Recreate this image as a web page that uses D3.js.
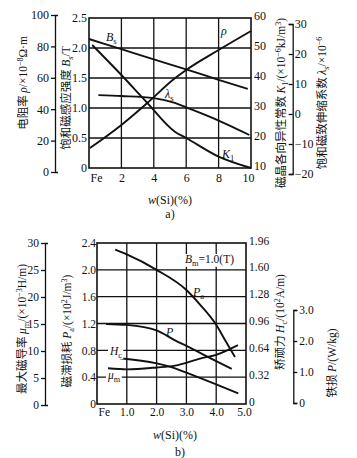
<!DOCTYPE html>
<html><head><meta charset="utf-8">
<script src="https://cdn.jsdelivr.net/npm/d3@7"></script>
<style>body{margin:0;background:#fff}svg{display:block}</style>
</head><body><svg id="c" width="357" height="458"></svg>
<script>
// ---------- Chart a) data ----------
const xTickValsA = [0, 2, 4, 6, 8, 10];
const xTicksA = ["Fe", "2", "4", "6", "8", "10"];
const bsTicks = [0, 0.5, 1.0, 1.5, 2.0, 2.5];
const rhoTicks = [0, 20, 40, 60, 80, 100];
const k1Ticks = [10, 20, 30, 40, 50, 60];
const lamTicks = [-20, -10, 0, 10, 20, 30];
const Bs = [[0, 2.15], [2, 1.98], [4, 1.81], [6, 1.645], [8, 1.47], [9.8, 1.32]];
const rho = [[0.06, 15.3], [2, 30], [3.6, 44], [5.3, 59.7], [6, 65], [8, 77.7], [10, 89.8]];
const lambdaS = [[0.58, 6.3], [2, 6.0], [4, 5.3], [5.3, 3.7], [6, 2.2], [8, -2.2], [9.9, -7.0]];
const K1 = [[0.2, 51], [2, 41], [3.5, 32.3], [5.3, 22.1], [6, 20], [8, 13.8], [10, 10]];

// ---------- Chart b) data ----------
const xTickValsB = [0, 1, 2, 3, 4, 5];
const xTicksB = ["Fe", "1.0", "2.0", "3.0", "4.0", "5.0"];
const paTicks = [0, 0.4, 0.8, 1.2, 1.6, 2.0, 2.4];
const muTicks = [0, 5, 10, 15, 20, 25, 30];
const hcTickLabels = ["0", "0.32", "0.64", "0.96", "1.28", "1.60", "1.96"];
const pTicks = [0, 1, 2, 3];
const Pa = [[0.61, 2.30], [1, 2.23], [2, 2.0], [3, 1.70], [3.5, 1.46], [4, 1.18], [4.3, 0.95], [4.63, 0.70]];
const P = [[0.3, 2.55], [1, 2.52], [2, 2.34], [2.62, 2.02], [3, 1.84], [4, 1.35], [4.52, 1.10]];
const Hc = [[0.77, 0.545], [2, 0.485], [2.62, 0.426], [3, 0.374], [4, 0.233], [4.74, 0.128]];
const mu = [[0.37, 6.8], [1, 6.6], [2, 6.95], [2.62, 7.3], [3.46, 8.6], [4, 9.3], [4.73, 11.1]];

const svg = d3.select('#c');
const SERIF = "'Liberation Serif','Times New Roman',serif";
const CJK = "'Noto Sans CJK SC','Noto Sans CJK JP',sans-serif";
const INK = '#111';

function rich(textSel, parts, size) {
  let shift = 0;
  parts.forEach(p => {
    const kind = p[1] || '';
    const t = textSel.append('tspan').text(p[0]);
    let target = 0, fs = size;
    if (kind.includes('sup')) { target = -size * 0.4; fs = size * 0.7; }
    if (kind.includes('sub')) { target = size * 0.25; fs = size * 0.72; }
    t.attr('dy', (target - shift).toFixed(2));
    shift = target;
    t.attr('font-size', fs)
     .attr('font-family', kind.includes('cjk') ? CJK : SERIF)
     .attr('font-style', kind.includes('it') ? 'italic' : 'normal');
  });
  return textSel;
}
function vtitle(cx, cy, parts, size) {
  const t = svg.append('text')
    .attr('transform', `translate(${cx},${cy}) rotate(-90)`)
    .attr('text-anchor', 'middle').attr('y', size * 0.36).attr('fill', INK);
  rich(t, parts, size);
}
function label(x, y, parts, size, bg) {
  const t = svg.append('text').attr('x', x).attr('y', y).attr('fill', INK);
  rich(t, parts, size);
  if (bg) {
    const b = t.node().getBBox();
    svg.insert('rect', () => t.node()).attr('x', b.x - 1).attr('y', b.y + 1)
      .attr('width', b.width + 2).attr('height', b.height - 2).attr('fill', '#fff');
  }
  return t;
}
function styleAxis(g, size) {
  g.attr('font-family', SERIF).attr('font-size', size);
  g.selectAll('path,line').attr('stroke', INK).attr('stroke-width', 1.3);
  g.selectAll('text').attr('fill', INK);
}

// ================= Chart a) =================
const xA = d3.scaleLinear([0, 10], [89, 251]);
const yBs = d3.scaleLinear([0, 2.5], [168, 18]);
const yRho = d3.scaleLinear([0, 100], [172, 15]);
const yK1 = d3.scaleLinear([10, 60], [168, 18]);
const yLam = d3.scaleLinear([-20, 30], [174, 24]);

const gridA = svg.append('g').attr('stroke', '#111').attr('stroke-width', 1.3);
gridA.selectAll('line.v').data(xTickValsA.slice(1, -1)).join('line')
  .attr('x1', d => xA(d)).attr('x2', d => xA(d)).attr('y1', yBs(0)).attr('y2', yBs(2.5));
gridA.selectAll('line.h').data(bsTicks.slice(1, -1)).join('line').attr('class', 'h')
  .attr('x1', xA(0)).attr('x2', xA(10)).attr('y1', d => yBs(d)).attr('y2', d => yBs(d));
svg.append('rect').attr('x', xA(0)).attr('y', yBs(2.5)).attr('width', xA(10) - xA(0))
  .attr('height', yBs(0) - yBs(2.5)).attr('fill', 'none').attr('stroke', INK).attr('stroke-width', 1.6);

let g;
g = svg.append('g').attr('transform', `translate(${xA(0)},0)`)
  .call(d3.axisLeft(yBs).tickValues(bsTicks).tickSize(0).tickPadding(2)
    .tickFormat(d => d === 0 ? '0' : d3.format('.1f')(d)));
g.select('.domain').remove(); styleAxis(g, 12);

g = svg.append('g').attr('transform', `translate(0,${yBs(0)})`)
  .call(d3.axisBottom(xA).tickValues(xTickValsA).tickSize(0).tickPadding(5)
    .tickFormat((d, i) => xTicksA[i]));
g.select('.domain').remove(); styleAxis(g, 12);
g.select('.tick text').attr('text-anchor', 'start').attr('x', 1);
g.selectAll('.tick:last-of-type text').attr('x', -3);

g = svg.append('g').attr('transform', 'translate(55,0)')
  .call(d3.axisLeft(yRho).tickValues(rhoTicks).tickSize(4).tickSizeOuter(-3).tickPadding(2));
styleAxis(g, 12);

g = svg.append('g').attr('transform', `translate(${xA(10)},0)`)
  .call(d3.axisRight(yK1).tickValues(k1Ticks).tickSize(0).tickPadding(3));
g.select('.domain').remove(); styleAxis(g, 12);
g.selectAll('.tick text').attr('dy', '0.12em');

g = svg.append('g').attr('transform', 'translate(292.7,0)')
  .call(d3.axisRight(yLam).tickValues(lamTicks).tickSize(-4).tickSizeOuter(-4).tickPadding(2)
    .tickFormat(d => d < 0 ? '\u2212' + Math.abs(d) : String(d)));
styleAxis(g, 12);

const curveStyle = s => s.attr('fill', 'none').attr('stroke', INK).attr('stroke-width', 1.9);
const lineOf = (xs, ys) => d3.line().x(d => xs(d[0])).y(d => ys(d[1])).curve(d3.curveMonotoneX);
svg.append('path').attr('d', lineOf(xA, yBs)(Bs)).call(curveStyle);
svg.append('path').attr('d', lineOf(xA, yRho)(rho)).call(curveStyle);
svg.append('path').attr('d', lineOf(xA, yLam)(lambdaS)).call(curveStyle);
svg.append('path').attr('d', lineOf(xA, yK1)(K1)).call(curveStyle);

label(106, 41, [['B', 'it'], ['s', 'sub']], 12);
label(221, 35, [['ρ', 'it']], 12);
label(165, 98, [['λ', 'it'], ['s', 'sub']], 12);
label(222, 158, [['K', 'it'], ['1', 'sub']], 12);

vtitle(23, 83, [['电阻率 ', 'cjk'], ['ρ', 'it'], ['/×10'], ['−8', 'sup'], ['Ω·m']], 11.5);
vtitle(66, 98, [['饱和磁感应强度 ', 'cjk'], ['B', 'it'], ['s', 'sub'], ['/T']], 11.5);
vtitle(281, 103, [['磁晶各向异性常数 ', 'cjk'], ['K', 'it'], ['1', 'sub'], ['/(×10'], ['−6', 'sup'], ['kJ/m'], ['3', 'sup'], [')']], 11.5);
vtitle(322, 103, [['饱和磁致伸缩系数 ', 'cjk'], ['λ', 'it'], ['s', 'sub'], ['/×10'], ['−6', 'sup']], 11.5);

svg.append('text').attr('x', 170).attr('y', 204).attr('text-anchor', 'middle').attr('fill', INK)
  .call(t => rich(t, [['w', 'it'], ['(Si)(%)']], 12));
svg.append('text').attr('x', 170).attr('y', 218).attr('text-anchor', 'middle').attr('fill', INK)
  .call(t => rich(t, [['a)']], 12));

// ================= Chart b) =================
const xB = d3.scaleLinear([0, 5], [97, 246]);
const yPa = d3.scaleLinear([0, 2.4], [404, 243]);
const yMu = d3.scaleLinear([0, 30], [405, 243]);
const yHc = d3.scaleLinear([0, 1.92], [404, 243]);
const yP = d3.scaleLinear([0, 3], [403, 310]);

const gridB = svg.append('g').attr('stroke', '#111').attr('stroke-width', 1.3);
gridB.selectAll('line.v').data(xTickValsB.slice(1, -1)).join('line')
  .attr('x1', d => xB(d)).attr('x2', d => xB(d)).attr('y1', yPa(0)).attr('y2', yPa(2.4));
gridB.selectAll('line.h').data(paTicks.slice(1, -1)).join('line').attr('class', 'h')
  .attr('x1', xB(0)).attr('x2', xB(5)).attr('y1', d => yPa(d)).attr('y2', d => yPa(d));
svg.append('rect').attr('x', xB(0)).attr('y', yPa(2.4)).attr('width', xB(5) - xB(0))
  .attr('height', yPa(0) - yPa(2.4)).attr('fill', 'none').attr('stroke', INK).attr('stroke-width', 1.6);

g = svg.append('g').attr('transform', `translate(${xB(0)},0)`)
  .call(d3.axisLeft(yPa).tickValues(paTicks).tickSize(0).tickPadding(1)
    .tickFormat(d => d === 0 ? '0' : d3.format('.1f')(d)));
g.select('.domain').remove(); styleAxis(g, 11.5);

g = svg.append('g').attr('transform', `translate(0,${yPa(0)})`)
  .call(d3.axisBottom(xB).tickValues(xTickValsB).tickSize(0).tickPadding(4)
    .tickFormat((d, i) => xTicksB[i]));
g.select('.domain').remove(); styleAxis(g, 11.5);
g.select('.tick text').attr('text-anchor', 'start').attr('x', 1);
g.selectAll('.tick:last-of-type text').attr('x', -2);

g = svg.append('g').attr('transform', 'translate(45,0)')
  .call(d3.axisLeft(yMu).tickValues(muTicks).tickSize(4).tickSizeOuter(-3).tickPadding(2));
styleAxis(g, 11.5);

g = svg.append('g').attr('transform', `translate(${xB(5)},0)`)
  .call(d3.axisRight(yHc).tickValues(hcTickLabels.map((_, i) => i * 0.32)).tickSize(0).tickPadding(3)
    .tickFormat((d, i) => hcTickLabels[i]));
g.select('.domain').remove(); styleAxis(g, 11.5);
g.selectAll('.tick text').attr('dy', '0.1em');

g = svg.append('g').attr('transform', 'translate(293.3,0)')
  .call(d3.axisRight(yP).tickValues(pTicks).tickSize(4).tickSizeOuter(4).tickPadding(2)
    .tickFormat(d => d === 0 ? '0' : d3.format('.1f')(d)));
styleAxis(g, 11.5);

svg.append('path').attr('d', lineOf(xB, yPa)(Pa)).call(curveStyle);
svg.append('path').attr('d', lineOf(xB, yP)(P)).call(curveStyle);
svg.append('path').attr('d', lineOf(xB, yHc)(Hc)).call(curveStyle);
svg.append('path').attr('d', lineOf(xB, yMu)(mu)).call(curveStyle);

label(185, 263, [['B', 'it'], ['m', 'sub'], ['=1.0(T)']], 11.5, true);
label(193, 296, [['P', 'it'], ['a', 'sub']], 12);
label(166, 336, [['P', 'it']], 12);
label(110, 355, [['H', 'it'], ['c', 'sub']], 11.5, true);
label(108, 379, [['μ', 'it'], ['m', 'sub']], 11.5, true);

vtitle(22, 329, [['最大磁导率 ', 'cjk'], ['μ', 'it'], ['m', 'sub'], ['/(×10'], ['−3', 'sup'], ['H/m)']], 11.5);
vtitle(67, 331, [['磁滞损耗 ', 'cjk'], ['P', 'it'], ['a', 'sub'], ['/(×10'], ['2', 'sup'], ['J/m'], ['3', 'sup'], [')']], 11.5);
vtitle(280, 322, [['矫顽力 ', 'cjk'], ['H', 'it'], ['c', 'sub'], ['/(10'], ['2', 'sup'], ['A/m)']], 11.5);
vtitle(332, 363, [['铁损 ', 'cjk'], ['P', 'it'], ['/(W/kg)']], 11.5);

svg.append('text').attr('x', 175).attr('y', 439).attr('text-anchor', 'middle').attr('fill', INK)
  .call(t => rich(t, [['w', 'it'], ['(Si)(%)']], 12));
svg.append('text').attr('x', 180).attr('y', 456).attr('text-anchor', 'middle').attr('fill', INK)
  .call(t => rich(t, [['b)']], 12));
</script>
</body></html>
